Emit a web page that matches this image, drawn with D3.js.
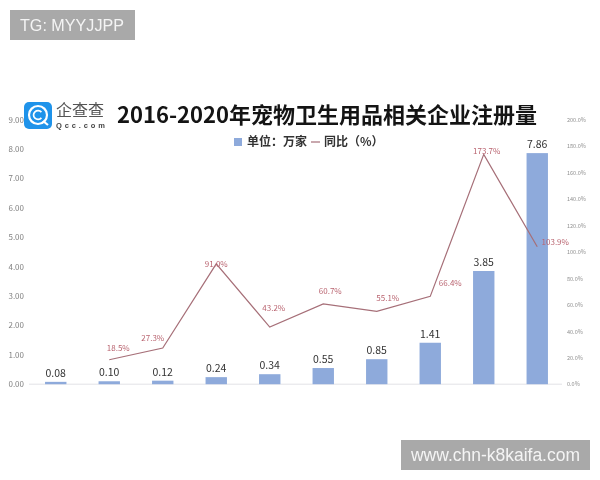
<!DOCTYPE html>
<html>
<head>
<meta charset="utf-8">
<script src="https://cdnjs.cloudflare.com/ajax/libs/d3/7.8.5/d3.min.js"></script>
<style>
    html, body { margin: 0; padding: 0; background: #fff; }
    svg { display: block; filter: blur(0.3px); }
    text { font-family: "Noto Sans CJK SC", "Noto Sans", sans-serif; }
</style>
</head>
<body>
<div id="chart"></div>
<script>
// bars are unlabelled in the picture, so just number them
var categories = ['1', '2', '3', '4', '5', '6', '7', '8', '9', '10'];
var counts = [0.08, 0.10, 0.12, 0.24, 0.34, 0.55, 0.85, 1.41, 3.85, 7.86];
var countLabels = ['0.08', '0.10', '0.12', '0.24', '0.34', '0.55', '0.85', '1.41', '3.85', '7.86'];
var growthCategories = ['2', '3', '4', '5', '6', '7', '8', '9', '10'];
var growth = [18.5, 27.3, 91.0, 43.2, 60.7, 55.1, 66.4, 173.7, 103.9];
var leftTicks = [0, 1, 2, 3, 4, 5, 6, 7, 8, 9];
var rightTicks = [0, 20, 40, 60, 80, 100, 120, 140, 160, 180, 200];

// nudges for the line labels, they do not sit at one fixed offset
var growthDx = [9, -10, 0, 4, 7, 11, 20, 3, 18];
var growthDy = [-12, -10, 0, -19, -13, -13, -13, -3, -5];

var svg = d3.select('#chart').append('svg')
    .attr('width', 600)
    .attr('height', 480);

var x = d3.scaleBand()
    .domain(categories)
    .range([29, 564])
    .paddingInner(0.6)
    .paddingOuter(0.3);

var y = d3.scaleLinear().domain([0, 9]).range([384.2, 119.6]);
var yRight = d3.scaleLinear().domain([0, 200]).range([384.2, 119.6]);

function center(d) {
    return x(d) + x.bandwidth() / 2;
}

// axes
var leftAxis = svg.append('g')
    .attr('transform', 'translate(24,0)')
    .call(d3.axisLeft(y).tickValues(leftTicks).tickSize(0).tickPadding(0)
        .tickFormat(function(d) { return d3.format('.2f')(d); }));
leftAxis.select('.domain').remove();
leftAxis.selectAll('text')
    .style('font-size', '8px')
    .attr('fill', '#808080');

var rightAxis = svg.append('g')
    .attr('transform', 'translate(567,0)')
    .call(d3.axisRight(yRight).tickValues(rightTicks).tickSize(0).tickPadding(0)
        .tickFormat(function(d) { return d.toFixed(1) + '%'; }));
rightAxis.select('.domain').remove();
rightAxis.selectAll('text')
    .style('font-size', '5.5px')
    .attr('fill', '#8f8f8f');

svg.append('line')
    .attr('x1', 29)
    .attr('x2', 562)
    .attr('y1', y(0))
    .attr('y2', y(0))
    .attr('stroke', '#e2e2e6')
    .attr('stroke-width', 1);

// bars
svg.selectAll('.bar')
    .data(counts)
    .enter()
    .append('rect')
    .attr('class', 'bar')
    .attr('x', function(d, i) { return x(categories[i]); })
    .attr('y', function(d) { return y(d); })
    .attr('width', x.bandwidth())
    .attr('height', function(d) { return y(0) - y(d); })
    .attr('fill', '#8eaadb');

svg.selectAll('.bar-label')
    .data(counts)
    .enter()
    .append('text')
    .attr('class', 'bar-label')
    .attr('x', function(d, i) { return center(categories[i]); })
    .attr('y', function(d) { return y(d) - 5; })
    .attr('text-anchor', 'middle')
    .attr('fill', '#333')
    .style('font-size', '10.5px')
    .text(function(d, i) { return countLabels[i]; });

// growth line
var line = d3.line()
    .x(function(d, i) { return center(growthCategories[i]); })
    .y(function(d) { return yRight(d); });

svg.append('path')
    .datum(growth)
    .attr('d', line)
    .attr('fill', 'none')
    .attr('stroke', '#a66f78')
    .attr('stroke-width', 1.2);

svg.selectAll('.growth-label')
    .data(growth)
    .enter()
    .append('text')
    .attr('class', 'growth-label')
    .attr('x', function(d, i) { return center(growthCategories[i]) + growthDx[i]; })
    .attr('y', function(d, i) { return yRight(d) + growthDy[i]; })
    .attr('dy', '0.35em')
    .attr('text-anchor', 'middle')
    .attr('fill', '#b9636f')
    .style('font-size', '8px')
    .text(function(d) { return d.toFixed(1) + '%'; });

// title and legend
svg.append('text')
    .attr('x', 117)
    .attr('y', 123)
    .attr('fill', '#141414')
    .attr('font-weight', 700)
    .style('font-size', '22px')
    .text('2016-2020年宠物卫生用品相关企业注册量');

svg.append('rect')
    .attr('x', 234)
    .attr('y', 138)
    .attr('width', 8)
    .attr('height', 8)
    .attr('fill', '#8eaadb');
svg.append('text')
    .attr('x', 247)
    .attr('y', 146)
    .attr('fill', '#333')
    .attr('font-weight', 700)
    .style('font-size', '12px')
    .text('单位：万家');
svg.append('line')
    .attr('x1', 311)
    .attr('x2', 320)
    .attr('y1', 142)
    .attr('y2', 142)
    .attr('stroke', '#a66f78')
    .attr('stroke-width', 1.2);
svg.append('text')
    .attr('x', 324)
    .attr('y', 146)
    .attr('fill', '#333')
    .attr('font-weight', 700)
    .style('font-size', '12px')
    .text('同比（%）');

// qcc logo
var logo = svg.append('g');
logo.append('rect')
    .attr('x', 24)
    .attr('y', 102)
    .attr('width', 28)
    .attr('height', 27)
    .attr('rx', 5)
    .attr('fill', '#1f93ea');
logo.append('circle')
    .attr('cx', 38)
    .attr('cy', 115)
    .attr('r', 9)
    .attr('fill', 'none')
    .attr('stroke', '#fff')
    .attr('stroke-width', 2.2);
logo.append('path')
    .attr('transform', 'translate(38,115)')
    .attr('d', d3.arc()({
        innerRadius: 3.6,
        outerRadius: 5.3,
        startAngle: Math.PI / 2 + 0.7,
        endAngle: Math.PI * 2.5 - 0.7
    }))
    .attr('fill', '#fff');
logo.append('line')
    .attr('x1', 43)
    .attr('y1', 121)
    .attr('x2', 48)
    .attr('y2', 125)
    .attr('stroke', '#fff')
    .attr('stroke-width', 2.2);
logo.append('text')
    .attr('x', 56)
    .attr('y', 116)
    .attr('fill', '#555')
    .style('font-size', '16px')
    .text('企查查');
logo.append('text')
    .attr('x', 56)
    .attr('y', 128)
    .attr('fill', '#444')
    .attr('font-weight', 700)
    .attr('textLength', 49)
    .style('font-family', '"Liberation Sans", sans-serif')
    .style('font-size', '7.5px')
    .text('Qcc.com');

// watermarks
svg.append('rect')
    .attr('x', 10)
    .attr('y', 10)
    .attr('width', 125)
    .attr('height', 30)
    .attr('fill', '#a9a9a9');
svg.append('text')
    .attr('x', 20)
    .attr('y', 31)
    .attr('fill', '#f4f4f4')
    .attr('textLength', 104)
    .attr('lengthAdjust', 'spacingAndGlyphs')
    .style('font-family', '"Liberation Sans", sans-serif')
    .style('font-size', '17px')
    .text('TG: MYYJJPP');

svg.append('rect')
    .attr('x', 401)
    .attr('y', 440)
    .attr('width', 189)
    .attr('height', 30)
    .attr('fill', '#a9a9a9');
svg.append('text')
    .attr('x', 411)
    .attr('y', 461)
    .attr('fill', '#f4f4f4')
    .attr('textLength', 169)
    .attr('lengthAdjust', 'spacingAndGlyphs')
    .style('font-family', '"Liberation Sans", sans-serif')
    .style('font-size', '17.5px')
    .text('www.chn-k8kaifa.com');
</script>
</body>
</html>
